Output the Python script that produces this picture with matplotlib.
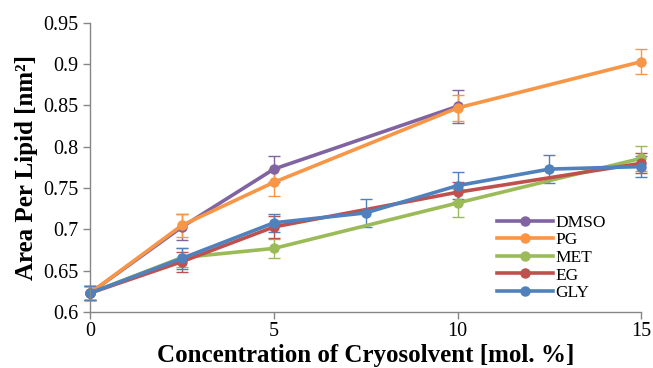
import matplotlib
matplotlib.use("Agg")
import matplotlib.pyplot as plt
from matplotlib.lines import Line2D

plt.rcParams['font.family'] = ['Liberation Serif', 'DejaVu Serif']

x_main = [0, 2.5, 5, 10, 15]
x_gly = [0, 2.5, 5, 7.5, 10, 12.5, 15]

dmso_x = [0, 2.5, 5, 10]
dmso = [0.623, 0.703, 0.773, 0.849]
dmso_err = [0.009, 0.016, 0.016, 0.020]

pg = [0.623, 0.705, 0.757, 0.847, 0.903]
pg_err = [0.009, 0.014, 0.016, 0.016, 0.015]

met = [0.623, 0.666, 0.677, 0.732, 0.786]
met_err = [0.009, 0.012, 0.012, 0.017, 0.015]

eg = [0.623, 0.661, 0.703, 0.745, 0.780]
eg_err = [0.009, 0.012, 0.013, 0.012, 0.012]

gly = [0.623, 0.665, 0.708, 0.720, 0.753, 0.773, 0.776]
gly_err = [0.009, 0.013, 0.011, 0.017, 0.016, 0.017, 0.013]

series = [
    ("DMSO", dmso_x, dmso, dmso_err, "#8064A2"),
    ("PG", x_main, pg, pg_err, "#F79646"),
    ("MET", x_main, met, met_err, "#9BBB59"),
    ("EG", x_main, eg, eg_err, "#C0504D"),
    ("GLY", x_gly, gly, gly_err, "#4F81BD"),
]

fig = plt.figure(figsize=(6.53, 3.68), dpi=100)
ax = fig.add_axes([0.138, 0.152, 0.844, 0.786])

handles = []
for name, xs, ys, es, c in series:
    cont = ax.errorbar(xs, ys, yerr=es, color=c, lw=2.6, marker='o', ms=6.5,
                       elinewidth=1.0, capsize=4, capthick=1.0, label=name)
    for art in [cont[0], *cont[1], *cont[2]]:
        art.set_clip_on(False)
    handles.append(Line2D([], [], color=c, lw=2.6, marker='o', ms=6.5, label=name))

ax.set_xlim(0, 15)
ax.set_ylim(0.6, 0.95)
ax.set_xticks([0, 5, 10, 15])
ax.set_yticks([0.6, 0.65, 0.7, 0.75, 0.8, 0.85, 0.9, 0.95])
ax.set_yticklabels(["0.6", "0.65", "0.7", "0.75", "0.8", "0.85", "0.9", "0.95"])
for s in ["top", "right"]:
    ax.spines[s].set_visible(False)
for s in ["left", "bottom"]:
    ax.spines[s].set_color("#868686")
    ax.spines[s].set_linewidth(1.0)
ax.tick_params(axis='both', colors="#868686", labelcolor='black', labelsize=14.5,
               length=5, width=1.0, direction='out')
ax.tick_params(axis='x', pad=2)
ax.set_xlabel("Concentration of Cryosolvent [mol. %]", fontsize=18, fontweight='bold', labelpad=2)
ax.set_ylabel("Area Per Lipid [nm²]", fontsize=18, fontweight='bold', labelpad=4)

leg = ax.legend(handles=handles, loc='lower right', bbox_to_anchor=(0.964, -0.016), frameon=False,
                fontsize=12.5, handlelength=3.2, labelspacing=0.08, handletextpad=0.15)

fig.savefig("out.png", dpi=100)
